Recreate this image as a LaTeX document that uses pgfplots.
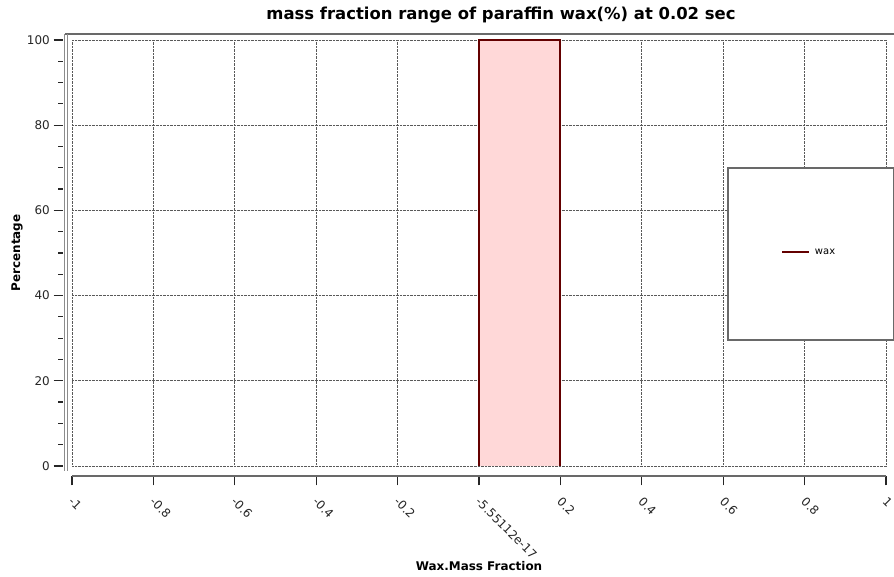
\documentclass[border=0pt]{standalone}
\usepackage{pgfplots}
\pgfplotsset{compat=1.18}
\usepackage{fontspec}
\setmainfont{DejaVu Sans}
\definecolor{barfill}{RGB}{255,216,216}
\definecolor{baredge}{RGB}{100,0,0}
\definecolor{framegray}{RGB}{105,105,105}
\begin{document}
\begin{tikzpicture}
\useasboundingbox (0bp,0bp) rectangle (894bp,577bp);
\begin{axis}[
  at={(72bp,111bp)}, anchor=south west,
  width=814bp, height=426bp, scale only axis,
  xmin=-1, xmax=1, ymin=0, ymax=100,
  clip=false,
  axis x line*=bottom, axis y line*=left,
  axis x line shift=10bp, axis y line shift=9bp,
  x axis line style={draw=framegray, line width=1.6bp},
  y axis line style={draw=none},
  xtick={-1,-0.8,-0.6,-0.4,-0.2,0,0.2,0.4,0.6,0.8,1},
  xticklabels={-1,-0.8,-0.6,-0.4,-0.2,-5.55112e-17,0.2,0.4,0.6,0.8,1},
  ytick={0,20,40,60,80,100},
  minor y tick num=3,
  grid=major,
  major grid style={densely dotted, black!65, line width=0.8bp},
  tick align=outside,
  major tick length=9.5bp, minor tick length=5bp,
  x tick style={black!85, line width=1.2bp},
  y tick style={black!85, line width=1.2bp},
  /pgf/number format/assume math mode=true,
  ticklabel style={font=\fontsize{12}{13}\selectfont, text=black!85},
  yticklabel style={inner sep=3.5bp},
  xticklabel style={rotate=-45, anchor=north west, inner sep=1bp, yshift=-5bp, xshift=8bp},
  legend style={at={(rel axis cs:0.871,0.502)}, anchor=west, draw=none, fill=none,
    inner sep=0pt, font=\fontsize{10}{11}\selectfont},
  legend image code/.code={\draw[baredge, line width=1.8bp] (0bp,0bp) -- (27bp,0bp);},
  legend cell align=left,
]
\addplot[fill=barfill, draw=none, forget plot] coordinates {(0,0) (0,100) (0.2,100) (0.2,0)} \closedcycle;
\addplot[baredge, line width=2bp] coordinates {(0,0) (0,100) (0.2,100) (0.2,0)};
\addlegendentry{\hspace{3bp}wax}
\draw[framegray, line width=2bp, fill=white] (axis cs:0.612,69.95) rectangle (axis cs:1.02,29.6);
\end{axis}
\draw[framegray, line width=2bp] (65bp,542.5bp) -- (894bp,542.5bp);
\draw[black!45, line width=0.9bp] (64.5bp,106bp) -- (64.5bp,543bp);
\draw[black!45, line width=0.9bp] (67.5bp,106bp) -- (67.5bp,543bp);
\node[font=\bfseries\fontsize{16.5}{18}\selectfont] at (501bp,562bp) {mass fraction range of paraffin wax(\%) at 0.02 sec};
\node[font=\bfseries\fontsize{12}{13}\selectfont, rotate=90] at (17bp,324bp) {Percentage};
\node[font=\bfseries\fontsize{12}{13}\selectfont] at (479bp,11bp) {Wax.Mass Fraction};
\end{tikzpicture}
\end{document}
